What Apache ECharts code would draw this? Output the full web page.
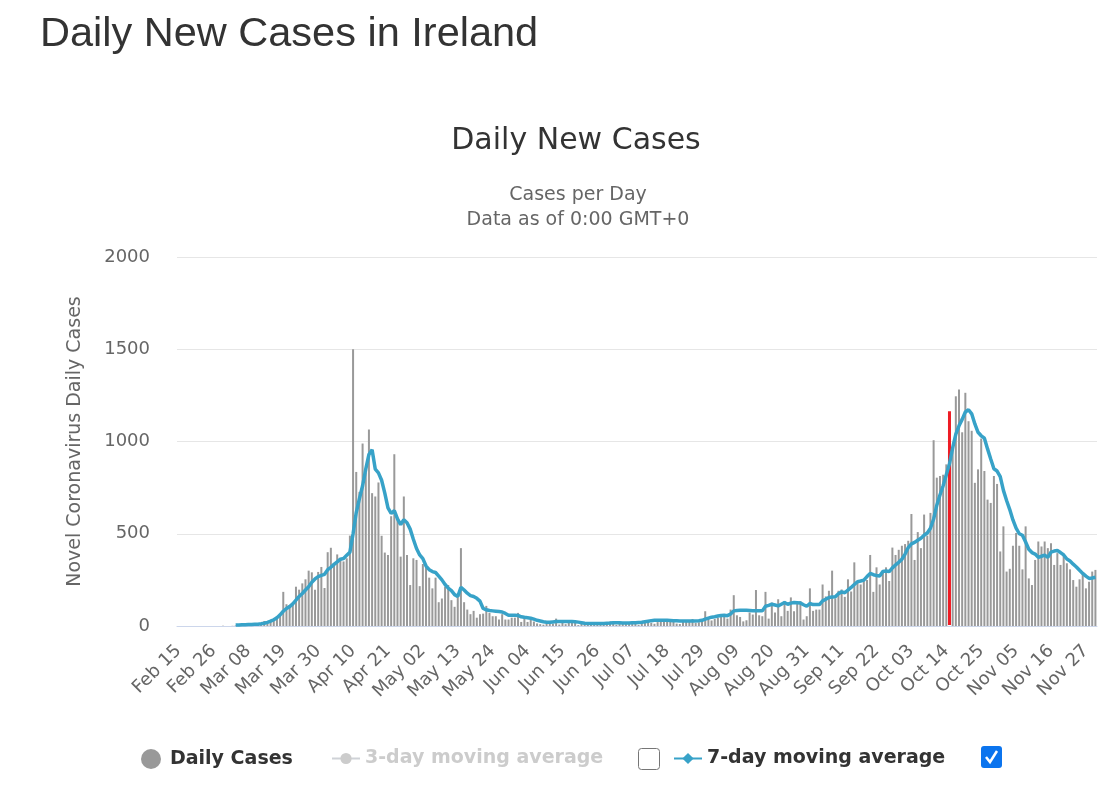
<!DOCTYPE html>
<html>
<head>
<meta charset="utf-8">
<title>Daily New Cases in Ireland</title>
<script src="https://cdn.jsdelivr.net/npm/echarts@6/dist/echarts.min.js"></script>
<style>
  html, body { margin: 0; padding: 0; background: #fff; }
  #chart { width: 1120px; height: 797px; }
</style>
</head>
<body>
<div id="chart"></div>
<script>
// daily new cases, Feb 15 -> Nov 30
var dailyCases = [
  0,0,0,0,0,0,0,0,0,0,
  0,0,0,0,1,0,0,1,3,7,
  5,1,2,0,3,10,9,27,20,30,
  38,54,65,185,118,102,121,213,197,231,
  253,300,291,197,293,320,206,400,424,340,
  388,362,350,367,490,1500,835,727,989,832,
  1065,720,702,778,489,398,385,595,931,577,
  376,702,385,222,367,358,216,336,330,262,
  204,262,129,149,213,222,140,104,158,422,
  129,89,64,82,45,64,67,109,71,53,
  53,35,64,35,35,45,45,71,22,45,
  22,33,24,14,10,7,12,16,12,40,
  8,20,10,18,22,17,5,11,9,14,
  8,13,10,18,8,12,24,11,6,11,
  18,11,13,25,25,6,18,20,23,17,
  12,21,28,34,29,31,27,13,11,26,
  22,25,38,16,20,33,80,40,30,38,
  45,57,60,40,89,167,58,49,25,31,
  73,62,195,58,53,185,40,127,73,145,
  53,136,82,155,80,135,135,35,53,204,
  82,89,89,225,160,191,300,150,191,198,
  158,253,187,345,244,225,249,250,385,185,
  318,225,304,318,244,425,385,413,435,444,
  462,607,358,509,422,604,490,613,1007,804,
  813,820,876,1170,960,1245,1282,1050,1264,1110,
  1058,776,849,1016,840,685,667,813,770,404,
  540,295,310,435,504,435,307,540,258,222,
  358,458,431,458,422,449,331,395,331,385,
  340,307,249,213,253,285,204,240,295,304
];

// 7-day moving average line
var avg7 = [
  null,null,null,null,null,null,null,null,null,null,
  null,null,null,null,null,null,null,null,5,6,
  7,7,8,8,9,10,12,15,20,26,
  34,45,60,80,95,105,120,140,160,176,
  195,213,237,255,268,274,280,305,318,334,
  348,362,366,383,400,500,615,690,760,850,
  930,955,850,830,790,720,640,610,625,580,
  550,576,560,525,470,420,385,365,325,305,
  295,290,270,250,225,205,192,170,160,210,
  195,178,165,160,150,135,95,88,84,82,
  80,78,76,68,58,58,58,57,50,47,
  45,42,37,31,27,23,20,20,22,24,
  24,24,24,24,24,23,21,18,15,13,
  13,13,13,13,14,15,16,18,18,17,
  16,16,16,17,18,19,20,23,26,29,
  31,31,31,31,31,30,29,28,27,27,
  27,27,27,27,28,31,37,43,48,50,
  54,57,58,56,65,82,84,85,85,85,
  84,83,82,82,82,107,112,118,114,109,
  118,127,118,124,127,126,125,115,107,122,
  116,116,116,136,145,155,157,158,175,185,
  180,195,209,225,240,244,249,268,285,278,
  274,271,296,298,295,315,331,345,362,390,
  425,445,453,465,476,492,504,530,580,655,
  710,760,820,880,965,1040,1085,1120,1160,1172,
  1150,1095,1050,1031,1018,960,905,852,840,810,
  735,680,631,575,530,500,492,455,416,398,
  390,372,378,384,372,400,406,409,398,385,
  363,352,335,320,302,285,270,258,260,264
];

var avg3 = [];  // hidden series (unchecked in the legend)

var yTicks = [0, 500, 1000, 1500, 2000];
var monthNames = ['Jan','Feb','Mar','Apr','May','Jun','Jul','Aug','Sep','Oct','Nov','Dec'];
var dates = [];
for (var i = 0; i < dailyCases.length; i++) {
  var d = new Date(Date.UTC(2020, 1, 15 + i));
  dates.push(monthNames[d.getUTCMonth()] + ' ' + String(d.getUTCDate()).padStart(2, '0'));
}

var highlightIdx = 243; // bar drawn in red
var FONT = '"DejaVu Sans", Verdana, sans-serif';

var barData = dailyCases.map(function (v, i) {
  if (i === highlightIdx) {
    return { value: v, itemStyle: { color: '#ee1c25', borderColor: '#ee1c25', borderWidth: 3 } };
  }
  return v;
});

var chart = echarts.init(document.getElementById('chart'), null, { renderer: 'canvas' });

var option = {
  animation: false,
  backgroundColor: '#ffffff',
  title: [
    {
      text: 'Daily New Cases in Ireland',
      left: 35, top: 9,
      textStyle: { fontFamily: '"Liberation Sans", Arial, sans-serif', fontSize: 41.5, fontWeight: 'normal', color: '#333333' }
    },
    {
      text: 'Daily New Cases',
      left: 571, top: 121, textAlign: 'center',
      textStyle: { fontFamily: FONT, fontSize: 30, fontWeight: 'normal', color: '#333333' }
    },
    {
      text: 'Cases per Day\nData as of 0:00 GMT+0',
      left: 573, top: 178, textAlign: 'center',
      textStyle: { fontFamily: FONT, fontSize: 19, fontWeight: 'normal', color: '#666666', lineHeight: 25 }
    }
  ],
  legend: [
    {
      data: ['Daily Cases'],
      left: 136, top: 744,
      icon: 'circle', itemWidth: 28, itemHeight: 20,
      textStyle: { fontFamily: FONT, fontSize: 19, fontWeight: 'bold', color: '#333333' }
    },
    {
      data: ['3-day moving average'],
      left: 326, top: 744,
      itemWidth: 28, itemHeight: 14,
      selected: { '3-day moving average': false },
      inactiveColor: '#cccccc',
      textStyle: { fontFamily: FONT, fontSize: 19, fontWeight: 'bold', color: '#333333' }
    },
    {
      data: ['7-day moving average'],
      left: 668, top: 744,
      itemWidth: 28, itemHeight: 14,
      textStyle: { fontFamily: FONT, fontSize: 19, fontWeight: 'bold', color: '#333333' }
    }
  ],
  grid: { left: 177, right: 23, top: 257, bottom: 171, containLabel: false },
  xAxis: {
    type: 'category',
    data: dates,
    boundaryGap: true,
    axisLine: { lineStyle: { color: '#ccd6eb', width: 1 } },
    axisTick: { show: false },
    axisLabel: {
      interval: 10, rotate: 45, margin: 22,
      fontFamily: FONT, fontSize: 18, color: '#666666'
    }
  },
  yAxis: {
    type: 'value',
    min: yTicks[0], max: yTicks[yTicks.length - 1], interval: 500,
    name: 'Novel Coronavirus Daily Cases',
    nameLocation: 'middle', nameRotate: 90, nameGap: 92,
    nameTextStyle: { fontFamily: FONT, fontSize: 19, color: '#666666' },
    axisLine: { show: false },
    axisTick: { show: false },
    axisLabel: {
      margin: 27, fontFamily: FONT, fontSize: 18, color: '#666666',
      formatter: function (v) { return String(v); }
    },
    splitLine: { lineStyle: { color: '#e6e6e6', width: 1 } }
  },
  series: [
    {
      name: 'Daily Cases',
      type: 'bar',
      data: barData,
      barWidth: 2,
      itemStyle: { color: '#999999' }
    },
    {
      name: '3-day moving average',
      type: 'line',
      data: avg3,
      symbol: 'circle', symbolSize: 8, showSymbol: false,
      itemStyle: { color: '#cccccc' },
      lineStyle: { width: 3 }
    },
    {
      name: '7-day moving average',
      type: 'line',
      data: avg7,
      symbol: 'diamond', symbolSize: 12, showSymbol: false,
      connectNulls: false,
      itemStyle: { color: '#37a2c8' },
      lineStyle: { width: 3.5, color: '#37a2c8' },
      z: 3
    }
  ],
  graphic: [
    {
      type: 'rect', left: 638, top: 748,
      shape: { width: 21, height: 21, r: 3 },
      style: { fill: '#ffffff', stroke: '#767676', lineWidth: 1 }
    },
    {
      type: 'group', left: 981, top: 746,
      children: [
        { type: 'rect', shape: { x: 0, y: 0, width: 21, height: 22, r: 3 }, style: { fill: '#0b74ee' } },
        { type: 'polyline', shape: { points: [[5, 11], [9, 16], [16, 5]] }, style: { stroke: '#ffffff', lineWidth: 2.5, fill: null } }
      ]
    }
  ]
};

chart.setOption(option);
</script>
</body>
</html>
